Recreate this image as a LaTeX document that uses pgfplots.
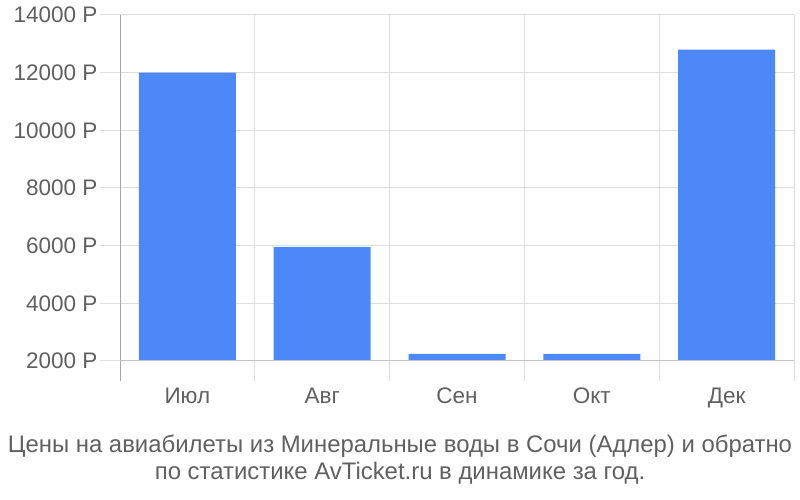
\documentclass[border=0pt]{standalone}
\usepackage{pgfplots}
\pgfplotsset{compat=1.18}
\usepackage{fontspec}
\setmainfont{Liberation Sans}
\definecolor{barblue}{HTML}{4D88F9}
\definecolor{gridgrey}{HTML}{DDDDDD}
\definecolor{txtgrey}{HTML}{606060}
\begin{document}
\begin{tikzpicture}
\useasboundingbox (0,0) rectangle (800pt,500pt);
\begin{axis}[
  at={(120pt,139pt)}, anchor=south west,
  scale only axis,
  width=674pt, height=346pt,
  xmin=-0.5, xmax=4.5,
  ymin=2000, ymax=14000,
  axis lines=left,
  axis line style={draw=none},
  ybar, bar width=97pt,
  xtick={0,1,2,3,4},
  xticklabels={Июл, Авг, Сен, Окт, Дек},
  minor xtick={-0.5,0.5,1.5,2.5,3.5,4.5},
  xminorgrids=true,
  ymajorgrids=true,
  ytick={2000,4000,...,14000},
  scaled y ticks=false,
  yticklabel={\pgfmathprintnumber[fixed,1000 sep={}]{\tick}~Р},
  /pgf/number format/assume math mode=true,
  grid style={draw=gridgrey, line width=1pt},
  minor grid style={draw=gridgrey, line width=1pt},
  tick align=outside,
  major tick length=20pt,
  minor tick length=20pt,
  x tick style={draw=none},
  minor x tick style={draw=gridgrey, line width=1pt},
  y tick style={draw=gridgrey, line width=1pt},
  tick label style={font=\fontsize{22.5pt}{24pt}\selectfont, text=txtgrey},
  xticklabel style={yshift=-3pt},
  yticklabel style={xshift=1pt},
  clip=false,
]
\addplot[fill=barblue, draw=none] coordinates {(0,12000) (1,5950) (2,2250) (3,2250) (4,12800)};
\draw[draw=gray!70, line width=1pt] (axis cs:-0.5,14000) -- ([yshift=-20pt]axis cs:-0.5,2000);
\draw[draw=gray!45, line width=1pt] (axis cs:-0.5,2000) -- (axis cs:4.5,2000);
\end{axis}
\node[text=txtgrey, font=\fontsize{23.9pt}{26pt}\selectfont] at (400pt,54pt) {Цены на авиабилеты из Минеральные воды в Сочи (Адлер) и обратно};
\node[text=txtgrey, font=\fontsize{23.9pt}{26pt}\selectfont] at (400pt,27pt) {по статистике AvTicket.ru в динамике за год.};
\end{tikzpicture}
\end{document}
